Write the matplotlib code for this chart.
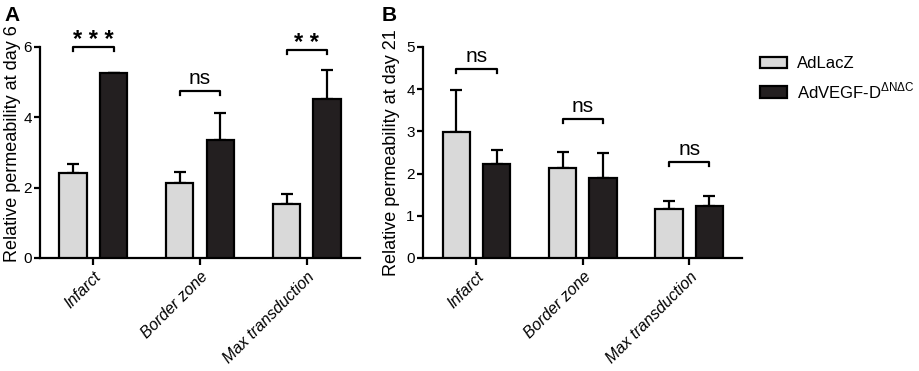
import numpy as np
import matplotlib.pyplot as plt

plt.rcParams['font.family'] = ['Liberation Sans', 'DejaVu Sans']

# Dados
regioes = ['Infarct', 'Border zone', 'Max transduction']
lacz_d6 = [2.42, 2.12, 1.54]
lacz_d6_err = [0.24, 0.33, 0.29]
vegf_d6 = [5.25, 3.35, 4.53]
vegf_d6_err = [0.0, 0.78, 0.80]
lacz_d21 = [2.99, 2.12, 1.15]
lacz_d21_err = [0.99, 0.39, 0.21]
vegf_d21 = [2.23, 1.90, 1.23]
vegf_d21_err = [0.32, 0.58, 0.24]
sig_d6 = ['***', 'ns', '**']
sig_d6_y = [6.0, 4.75, 5.9]
sig_d21 = ['ns', 'ns', 'ns']
sig_d21_y = [4.48, 3.30, 2.27]

cinza = '#d9d9d9'
preto = '#231f20'

fig = plt.figure(figsize=(9.2, 3.71), dpi=100)
axA = fig.add_axes([0.0435, 0.3046, 0.348, 0.569])
axB = fig.add_axes([0.460, 0.3046, 0.347, 0.569])

def painel(ax, g1, e1, g2, e2, sig, sig_y, ymax, ylabel):
    x = np.arange(len(regioes))
    off = 0.19
    w = 0.255
    ax.bar(x - off, g1, w, color=cinza, edgecolor='black', linewidth=1.6, label='AdLacZ', zorder=3)
    ax.bar(x + off, g2, w, color=preto, edgecolor='black', linewidth=1.6,
           label=r'AdVEGF-D$^{\mathregular{\Delta N \Delta C}}$', zorder=3)
    ax.errorbar(x - off, g1, yerr=[np.zeros(3), e1], fmt='none', ecolor='black',
                elinewidth=1.6, capsize=4, capthick=1.6, zorder=2)
    ax.errorbar(x + off, g2, yerr=[np.zeros(3), e2], fmt='none', ecolor='black',
                elinewidth=1.6, capsize=4, capthick=1.6, zorder=2)
    h = ymax * 4 / 211
    for i in range(3):
        y = sig_y[i]
        ax.plot([i - off, i - off, i + off, i + off], [y - h, y, y, y - h],
                color='black', lw=1.6, clip_on=False)
        if '*' in sig[i]:
            ax.annotate(' '.join(sig[i]), (i, y), xytext=(0, 0), textcoords='offset points',
                        ha='center', va='baseline', fontsize=17, fontweight='bold')
        else:
            ax.annotate(sig[i], (i, y), xytext=(0, 5), textcoords='offset points',
                        ha='center', va='baseline', fontsize=15)
    ax.set_xlim(-0.5, 2.5)
    ax.set_ylim(0, ymax)
    ax.spines['top'].set_visible(False)
    ax.spines['right'].set_visible(False)
    ax.spines['left'].set_linewidth(1.6)
    ax.spines['bottom'].set_linewidth(1.6)
    ax.tick_params(axis='y', width=1.6, length=4, labelsize=11, pad=2)
    ax.tick_params(axis='x', width=1.6, length=5, pad=3)
    ax.set_xticks(x)
    ax.set_xticklabels(regioes, rotation=45, ha='right', rotation_mode='anchor',
                       style='italic', fontsize=11.5)
    ax.set_ylabel(ylabel, fontsize=13)

painel(axA, lacz_d6, lacz_d6_err, vegf_d6, vegf_d6_err, sig_d6, sig_d6_y, 6, 'Relative permeability at day 6')
axA.set_yticks([0, 2, 4, 6])
axA.yaxis.set_label_coords(-0.058, 0.54)
painel(axB, lacz_d21, lacz_d21_err, vegf_d21, vegf_d21_err, sig_d21, sig_d21_y, 5, 'Relative permeability at day 21')
axB.set_yticks([0, 1, 2, 3, 4, 5])
axB.yaxis.set_label_coords(-0.072, 0.5)

h, l = axB.get_legend_handles_labels()
fig.legend(h, l, loc='upper left', bbox_to_anchor=(0.826, 0.848), frameon=False, fontsize=12,
           handlelength=1.6, handleheight=0.7, labelspacing=0.55, borderpad=0,
           borderaxespad=0, handletextpad=0.65)

fig.text(0.005, 0.985, 'A', fontsize=15, fontweight='bold', va='top')
fig.text(0.415, 0.985, 'B', fontsize=15, fontweight='bold', va='top')

plt.savefig('out.png', dpi=100)
